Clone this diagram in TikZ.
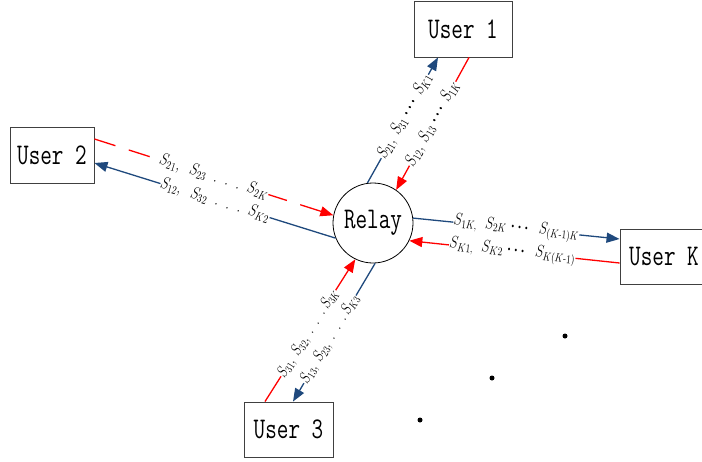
\RequirePackage{fix-cm}
\documentclass[tikz,border=0pt]{standalone}
\usepackage{amsmath}
\usepackage{graphicx}
\usetikzlibrary{arrows.meta}

\definecolor{linkblue}{RGB}{31,73,125}
\definecolor{linkred}{RGB}{255,0,0}

% condensed typewriter text for the boxes and the relay
\newcommand\usertext[1]{\scalebox{0.75}[1]{\fontsize{30}{30}\selectfont\ttfamily #1}}
% condensed math labels along the links (optional font size)
\newcommand\linklabel[2][17]{\scalebox{0.78}[1]{\fontsize{#1}{#1}\selectfont$#2$}}
\newcommand\bdots{\boldsymbol{\cdots}}
\newcommand\sdots{.\ \ .\ \ .}

\tikzset{
  userbox/.style={draw=black!75, line width=0.9pt, inner sep=0pt,
    minimum height=56pt},
  relaynode/.style={draw, circle, line width=0.8pt, minimum size=80pt,
    inner sep=0pt},
  tipped/.style={-{Triangle[length=13pt,width=10pt]}},
  bluelink/.style={tipped, draw=linkblue, line width=1.3pt},
  redlink/.style={tipped, draw=linkred, line width=1.3pt},
  lab/.style={sloped, fill=white, inner sep=0.3pt, text=black},
  ellipsisdot/.style={circle, fill=black, inner sep=0pt, minimum size=5pt},
}

\begin{document}
\begin{tikzpicture}[x=1pt, y=-1pt]
\useasboundingbox (0,0) rectangle (702,461);

% users and relay
\node[userbox, minimum width=98pt] (u1) at (463,29) {\usertext{User 1}};
\node[userbox, minimum width=84pt] (u2) at (52,155) {\usertext{User 2}};
\node[userbox, minimum width=89pt, minimum height=55pt] (u3) at (288.5,429.5) {\usertext{User 3}};
\node[userbox, minimum width=88pt, minimum height=55pt] (uk) at (664,256.5) {\usertext{User K}};
\node[relaynode] (relay) at (373,223) {\usertext{Relay}};

% user 1
\draw[bluelink] (relay.98.5) -- node[lab, pos=0.53]
  {\linklabel{S_{21},\ S_{31}\ \bdots\ S_{K1}}} ([xshift=-25pt]u1.south);
\draw[redlink] ([xshift=6pt]u1.south) -- node[lab, pos=0.5]
  {\linklabel{S_{12},\ S_{13}\ \bdots\ S_{1K}}} (relay.55.6);

% user 2
\draw[redlink, dash pattern=on 22pt off 14pt] ([yshift=16pt]u2.east) -- node[lab, pos=0.5]
  {\linklabel{S_{21},\ \ S_{23}\ \ \sdots\ \ S_{2K}}} (relay.169.6);
\draw[bluelink] (relay.202.6) -- node[lab, pos=0.5]
  {\linklabel{S_{12},\ \ S_{32}\ \ \sdots\ \ S_{K2}}} ([yshift=-8pt]u2.east);

% user K
\draw[bluelink] (relay.7) -- node[lab, pos=0.5]
  {\linklabel{S_{1K,}\ \ S_{2K}\ \bdots\ \ S_{(K\text{-}1)K}}} ([yshift=17.5pt]uk.west);
\draw[redlink] ([yshift=-6.5pt]uk.west) -- node[lab, pos=0.51]
  {\linklabel{S_{K1,}\ \ S_{K2}\ \bdots\ \ S_{K(K\text{-}1)}}} (relay.-26);

% user 3 (the two links run close together, so slightly smaller labels)
\draw[redlink] ([xshift=-23.5pt]u3.north) -- node[lab, pos=0.48]
  {\linklabel[16]{S_{31},\ S_{32},\ \sdots\ S_{3K}}} (relay.244);
\draw[bluelink] (relay.273) -- node[lab, pos=0.55]
  {\linklabel[16]{S_{13},\ S_{23},\ \sdots\ S_{K3}}} ([xshift=4.5pt]u3.north);

% further users
\node[ellipsisdot] (d1) at (565,336) {};
\node[ellipsisdot] (d2) at (492,378) {};
\node[ellipsisdot] (d3) at (420,420) {};
\end{tikzpicture}
\end{document}
